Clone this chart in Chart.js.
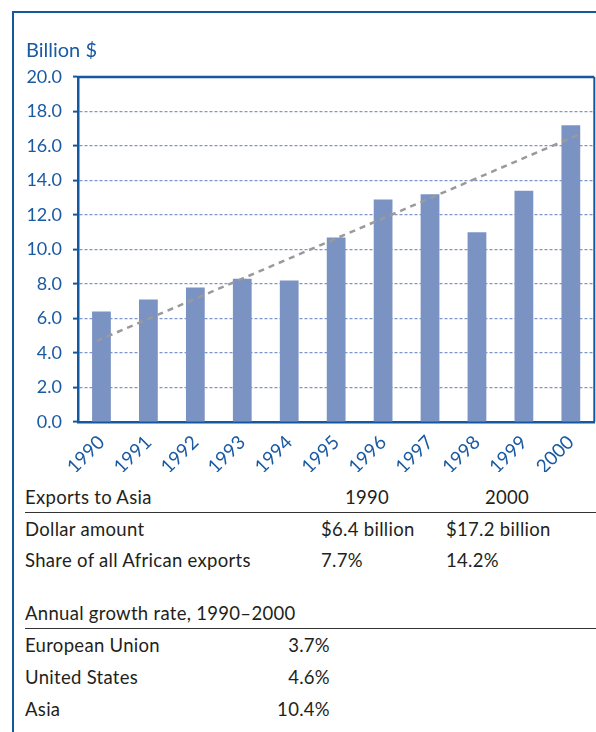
<!DOCTYPE html>
<html>
<head>
<meta charset="utf-8">
<script src="https://cdn.jsdelivr.net/npm/chart.js@4.4.1/dist/chart.umd.min.js"></script>
<style>
  html, body { margin: 0; padding: 0; background: #fff; }
  body { width: 596px; height: 732px; position: relative; overflow: hidden; font-family: Lato, "Noto Sans", sans-serif; }
  #frame { position: absolute; left: 12px; top: 11px; right: -2px; bottom: -2px; border-top: 2px solid #14589f; border-left: 2px solid #14589f; }
  #wrap { position: absolute; left: 0; top: 0; width: 596px; height: 472px; }
  .t { position: absolute; font-size: 18.5px; letter-spacing: 0.3px; line-height: 20px; color: #231f20; white-space: nowrap; }
  .rule { position: absolute; left: 25px; right: 0; height: 1px; background: #333; }
</style>
</head>
<body>
<div id="frame"></div>
<div id="wrap"><canvas id="c"></canvas></div>
<div id="table"></div>
<script>
// ---- data ----
const years = ['1990','1991','1992','1993','1994','1995','1996','1997','1998','1999','2000'];
const exportsToAsia = [6.4, 7.1, 7.8, 8.3, 8.2, 10.7, 12.9, 13.2, 11.0, 13.4, 17.2];
const trendX = [-0.1, 10.2];
const trendY = [4.7, 16.7];
const yTicks = [0, 2, 4, 6, 8, 10, 12, 14, 16, 18, 20];
const yTitle = 'Billion $';

const exportsHeader = ['Exports to Asia', '1990', '2000'];
const exportRowLabels = ['Dollar amount', 'Share of all African exports'];
const exports1990 = ['$6.4 billion', '7.7%'];
const exports2000 = ['$17.2 billion', '14.2%'];
const growthHeader = 'Annual growth rate, 1990\u20132000';
const growthRegions = ['European Union', 'United States', 'Asia'];
const growthRates = ['3.7%', '4.6%', '10.4%'];

const BLUE = '#14589f';
const TXTBLUE = '#1a5aa3';

const plotBorder = {
  id: 'plotBorder',
  afterDatasetsDraw(chart) {
    const {ctx, chartArea: a} = chart;
    ctx.save();
    ctx.strokeStyle = BLUE;
    ctx.lineWidth = 2.5;
    ctx.beginPath();
    ctx.moveTo(a.left - 1, a.top);
    ctx.lineTo(a.right, a.top);
    ctx.stroke();
    ctx.lineWidth = 2;
    ctx.beginPath();
    ctx.moveTo(a.right, a.top);
    ctx.lineTo(a.right, a.bottom);
    ctx.stroke();
    ctx.restore();
  }
};

new Chart(document.getElementById('c'), {
  type: 'bar',
  data: {
    labels: years,
    datasets: [
      {
        type: 'line',
        data: trendX.map((x, i) => ({x: x, y: trendY[i]})),
        xAxisID: 'x2',
        borderColor: '#9a9a9a',
        borderWidth: 2.5,
        borderDash: [6, 5],
        pointRadius: 0,
        fill: false,
        order: 0
      },
      {
        type: 'bar',
        data: exportsToAsia,
        backgroundColor: '#7b93c3',
        barPercentage: 0.4,
        categoryPercentage: 1.0,
        grouped: false,
        order: 1
      }
    ]
  },
  options: {
    responsive: true,
    maintainAspectRatio: false,
    animation: false,
    layout: { padding: { left: 26, right: 1, top: 0, bottom: 0 } },
    plugins: {
      legend: { display: false },
      tooltip: { enabled: false },
      title: {
        display: true, text: yTitle, align: 'start', color: TXTBLUE,
        font: { family: 'Lato', size: 20, weight: 'normal' },
        padding: { top: 39, bottom: 14 }
      }
    },
    scales: {
      x: {
        type: 'category',
        offset: true,
        grid: { display: false, drawTicks: false },
        border: { display: true, color: BLUE, width: 2.5 },
        ticks: { color: TXTBLUE, font: { family: 'Lato', size: 19 }, maxRotation: 45, minRotation: 45, padding: 9 },
        afterFit(s) { s.height = 50; }
      },
      x2: { type: 'linear', display: false, offset: false, grace: 0, bounds: 'ticks', min: -0.5, max: 10.5 },
      y: {
        min: 0, max: 20,
        afterBuildTicks(s) { s.ticks = yTicks.map(v => ({value: v})); },
        grid: { color: '#7f96cc', lineWidth: 1.2, tickColor: BLUE, tickWidth: 2, tickLength: 5, tickBorderDash: [] },
        border: { display: true, color: BLUE, width: 2.5, dash: [3, 2] },
        ticks: { color: TXTBLUE, font: { family: 'Lato', size: 18 }, padding: 11, callback: v => Number(v).toFixed(1) },
        afterFit(s) { s.width = 52; }
      }
    }
  },
  plugins: [plotBorder]
});

// ---- table ----
const tbl = document.getElementById('table');
function addText(txt, left, baseline, align) {
  const d = document.createElement('div');
  d.className = 't';
  d.textContent = txt;
  const top = baseline - 16.5;
  d.style.top = top + 'px';
  if (align === 'right') { d.style.right = (596 - left) + 'px'; }
  else if (align === 'center') { d.style.left = (left - 100) + 'px'; d.style.width = '200px'; d.style.textAlign = 'center'; }
  else { d.style.left = left + 'px'; }
  tbl.appendChild(d);
}
function addRule(y) {
  const r = document.createElement('div');
  r.className = 'rule';
  r.style.top = y + 'px';
  tbl.appendChild(r);
}
addText(exportsHeader[0], 25, 503);
addText(exportsHeader[1], 367, 503, 'center');
addText(exportsHeader[2], 507, 503, 'center');
addRule(512);
exportRowLabels.forEach((lab, i) => {
  const b = 535 + i * 31;
  addText(lab, 25, b);
  addText(exports1990[i], 321, b);
  addText(exports2000[i], 446, b);
});
addText(growthHeader, 25, 619);
addRule(628);
growthRegions.forEach((lab, i) => {
  const b = 651 + i * 32;
  addText(lab, 25, b);
  addText(growthRates[i], 330, b, 'right');
});
</script>
</body>
</html>
